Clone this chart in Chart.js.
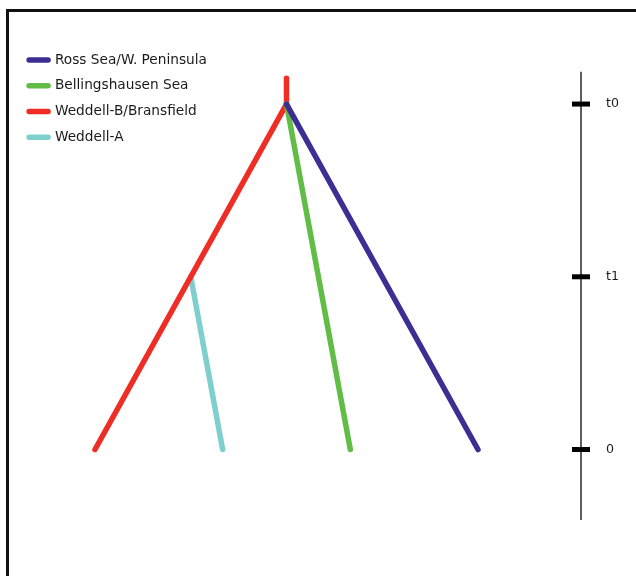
<!DOCTYPE html>
<html>
<head>
<meta charset="utf-8">
<script src="https://cdn.jsdelivr.net/npm/chart.js@4/dist/chart.umd.min.js"></script>
<style>
  html, body { margin: 0; padding: 0; background: #fff; }
  #wrap { position: relative; width: 636px; height: 576px; overflow: hidden; }
  #frame { position: absolute; left: 6px; top: 9px; right: -10px; bottom: -10px;
           border-top: 3px solid #111; border-left: 3px solid #111; pointer-events: none; }
  canvas { position: absolute; left: 0; top: 0; }
</style>
</head>
<body>
<div id="wrap">
  <div id="frame"></div>
  <canvas id="tree" width="636" height="576"></canvas>
</div>
<script>
// Lineage names, in legend order
const seriesNames = ['Ross Sea/W. Peninsula', 'Bellingshausen Sea', 'Weddell-B/Bransfield', 'Weddell-A'];
const seriesColors = ['#3b2f93', '#62bd47', '#ee2e24', '#7fcfce'];

// Branch paths as [leaf position, time] pairs
const rossSea = [[1.5, 2], [3, 0]];
const bellingshausen = [[1.5, 2], [2, 0]];
const weddellB = [[1.5, 2.15], [1.5, 2], [0, 0]];
const weddellA = [[0.75, 1], [1, 0]];
const branches = [rossSea, bellingshausen, weddellB, weddellA];

// Time axis: node heights, their labels, and the drawn extent of the axis
const tickValues = [2, 1, 0];
const tickLabels = ['t0', 't1', '0'];
const axisSpan = [-0.408, 2.187];

// Leaf-position range of the plot; the time axis stands at its right end
const X_MIN = -0.611, X_MAX = 3.807;
const Y_MIN = -0.408, Y_MAX = 2.365;

const branchSets = branches.map((path, i) => ({
  label: seriesNames[i],
  data: path.map(([x, y]) => ({ x, y })),
  showLine: true,
  borderColor: seriesColors[i],
  backgroundColor: seriesColors[i],
  borderWidth: 5.5,
  borderCapStyle: 'round',
  borderJoinStyle: 'round',
  pointRadius: 0,
  clip: false
}));

// Tick marks on the time axis, one per node height
const tickMarkSet = {
  label: 'ticks',
  data: tickValues.map(y => ({ x: X_MAX, y })),
  showLine: false,
  pointStyle: 'line',
  pointRadius: 9,
  pointBorderWidth: 5,
  pointBorderColor: '#000',
  pointBackgroundColor: '#000',
  clip: false
};

// The time axis line itself
const axisLineSet = {
  label: 'axis',
  data: axisSpan.map(y => ({ x: X_MAX, y })),
  showLine: true,
  borderColor: '#4d4d4d',
  borderWidth: 1.8,
  pointRadius: 0,
  clip: false
};

new Chart(document.getElementById('tree'), {
  type: 'scatter',
  data: { datasets: [...branchSets, tickMarkSet, axisLineSet] },
  options: {
    responsive: false,
    devicePixelRatio: 1,
    animation: false,
    events: [],
    layout: { padding: { top: 41, left: 17, right: 0, bottom: 56 } },
    plugins: {
      tooltip: { enabled: false },
      legend: {
        position: 'chartArea',
        align: 'start',
        // untitled header block, used only to set the legend's top offset
        title: { display: true, text: '', font: { size: 10 }, padding: { top: 29, bottom: 0 } },
        labels: {
          boxWidth: 19,
          boxHeight: 0,
          padding: 12.1,
          color: '#1a1a1a',
          font: { family: 'DejaVu Sans', size: 13.7 },
          filter: item => item.datasetIndex < seriesNames.length
        }
      }
    },
    scales: {
      x: {
        type: 'linear',
        display: false,
        min: X_MIN,
        max: X_MAX
      },
      y: {
        type: 'linear',
        position: 'right',
        min: Y_MIN,
        max: Y_MAX,
        afterBuildTicks: s => { s.ticks = tickValues.map(value => ({ value })); },
        ticks: {
          padding: 25,
          color: '#1a1a1a',
          font: { family: 'DejaVu Sans', size: 12.6 },
          callback: v => tickLabels[tickValues.indexOf(v)]
        },
        grid: { display: false, drawTicks: false },
        border: { display: false },
        afterFit: s => { s.width = 55; }
      }
    }
  }
});
</script>
</body>
</html>
